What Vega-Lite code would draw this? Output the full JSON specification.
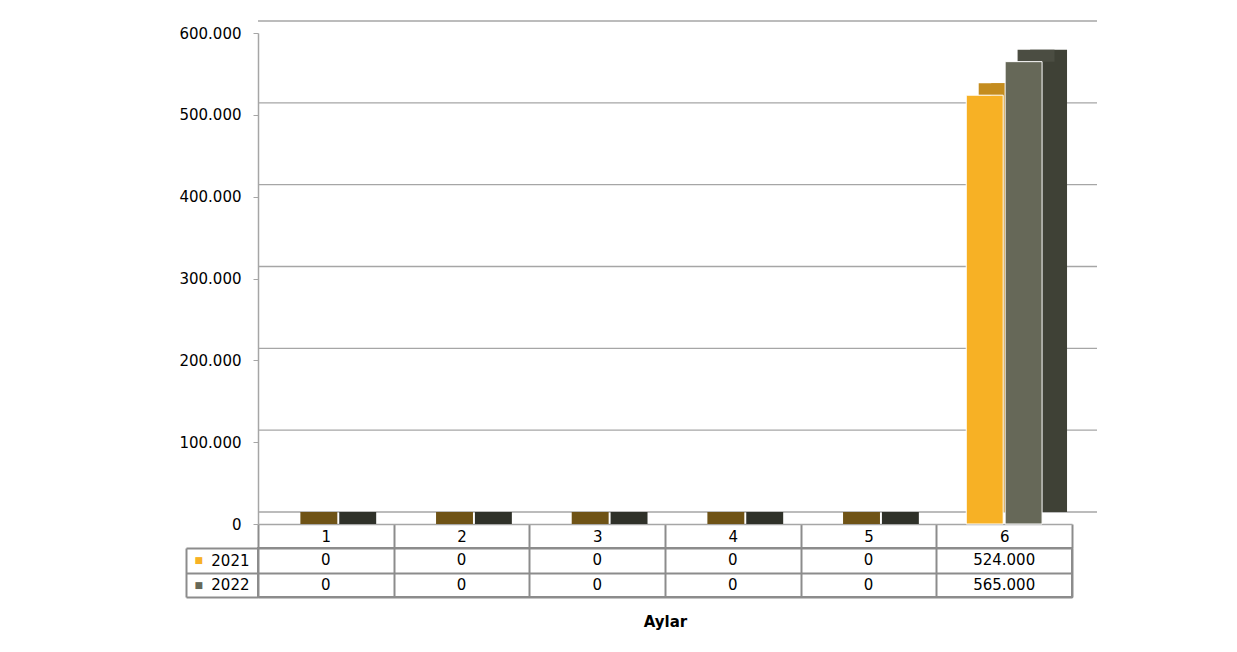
{
  "$schema": "https://vega.github.io/schema/vega-lite/v6.json",
  "background": "white",
  "padding": {"left": 178, "top": 20, "right": 5, "bottom": 5},
  "spacing": 24,
  "bounds": "flush",
  "datasets": {
    "vals": [
      {"month": "1", "year": "2021", "value": 0},
      {"month": "1", "year": "2022", "value": 0},
      {"month": "2", "year": "2021", "value": 0},
      {"month": "2", "year": "2022", "value": 0},
      {"month": "3", "year": "2021", "value": 0},
      {"month": "3", "year": "2022", "value": 0},
      {"month": "4", "year": "2021", "value": 0},
      {"month": "4", "year": "2022", "value": 0},
      {"month": "5", "year": "2021", "value": 0},
      {"month": "5", "year": "2022", "value": 0},
      {"month": "6", "year": "2021", "value": 524000},
      {"month": "6", "year": "2022", "value": 565000}
    ],
    "grid": [
      {"v": 0}, {"v": 100000}, {"v": 200000}, {"v": 300000},
      {"v": 400000}, {"v": 500000}, {"v": 600000}
    ]
  },
  "vconcat": [
    {
      "width": 814,
      "height": 491,
      "view": {"stroke": null},
      "layer": [
        {
          "data": {"name": "grid"},
          "mark": {"type": "rule", "color": "#a6a6a6", "strokeWidth": 1.3, "xOffset": 25, "x2Offset": 25, "yOffset": -12},
          "encoding": {
            "y": {"field": "v", "type": "quantitative", "scale": {"domain": [0, 600000]}}
          }
        },
        {
          "data": {"name": "vals"},
          "transform": [{"filter": "datum.value > 0"}],
          "mark": {"type": "bar", "yOffset": -12, "y2Offset": -12},
          "encoding": {
            "x": {"field": "month", "type": "nominal", "scale": {"paddingInner": 0, "paddingOuter": 0},
              "axis": {"title": null, "labelAngle": 0, "domainColor": "#a6a6a6", "domainWidth": 1.5, "tickBand": "extent", "tickSize": 24, "tickColor": "#8c8c8c", "tickWidth": 2, "labelPadding": -19, "labelFontSize": 15, "labelFont": "DejaVu Sans", "labelColor": "#000000", "grid": false}},
            "xOffset": {"field": "year", "type": "nominal", "scale": {"domain": ["2021", "2022"], "paddingOuter": 0.77, "paddingInner": 0.05, "align": 0.917}},
            "y": {"field": "value", "type": "quantitative"},
            "color": {"condition": {"test": "datum.year == '2021'", "value": "#c48a1c"}, "value": "#3f4136"}
          }
        },
        {
          "data": {"name": "vals"},
          "mark": {"type": "bar", "yOffset": -12},
          "encoding": {
            "x": {"field": "month", "type": "nominal"},
            "xOffset": {"field": "year", "type": "nominal", "scale": {"paddingOuter": 0.77, "paddingInner": 0.05, "align": 0.708}},
            "y": {"field": "value", "type": "quantitative"},
            "y2": {"field": "value"},
            "color": {"condition": [
              {"test": "datum.year == '2021' && datum.value == 0", "value": "#6f5316"},
              {"test": "datum.year == '2021'", "value": "#c48c1e"},
              {"test": "datum.value == 0", "value": "#2f3129"}
            ], "value": "#4b4d42"}
          }
        },
        {
          "data": {"name": "vals"},
          "transform": [{"filter": "datum.value > 0"}],
          "mark": {"type": "bar", "stroke": "white", "strokeWidth": 1},
          "encoding": {
            "x": {"field": "month", "type": "nominal"},
            "xOffset": {"field": "year", "type": "nominal", "scale": {"domain": ["2021", "2022"], "paddingOuter": 0.77, "paddingInner": 0.05, "align": 0.5}},
            "y": {"field": "value", "type": "quantitative",
              "axis": {"title": null, "tickCount": 6, "format": ",.0f", "grid": false, "domainColor": "#a6a6a6", "domainWidth": 1.5, "tickColor": "#a6a6a6", "tickSize": 5, "labelPadding": 12, "labelFontSize": 15, "labelFont": "DejaVu Sans", "labelColor": "#000000"}},
            "color": {"condition": {"test": "datum.year == '2021'", "value": "#f7b125"}, "value": "#666858"}
          }
        }
      ],
      "resolve": {"scale": {"xOffset": "independent"}}
    },
    {
      "width": 814,
      "height": 49,
      "view": {"stroke": "#8c8c8c", "strokeWidth": 2},
      "data": {"name": "vals"},
      "layer": [
        {
          "mark": {"type": "text", "fontSize": 15, "font": "DejaVu Sans", "color": "#000000"},
          "encoding": {
            "x": {"field": "month", "type": "nominal", "scale": {"paddingInner": 0, "paddingOuter": 0},
              "axis": {"grid": true, "tickBand": "extent", "gridColor": "#8c8c8c", "gridWidth": 2, "labels": false, "ticks": false, "domain": false, "title": "Aylar", "titleFontSize": 15, "titleFont": "DejaVu Sans", "titleFontWeight": "bold", "titleColor": "#000000", "titlePadding": 17}},
            "y": {"field": "year", "type": "nominal",
              "axis": {"title": null, "tickBand": "extent", "tickSize": 72, "tickColor": "#8c8c8c", "tickWidth": 2, "labelPadding": -63, "grid": true, "gridColor": "#8c8c8c", "gridWidth": 2, "domain": false, "labelFontSize": 15, "labelFont": "DejaVu Sans", "labelColor": "#000000"}},
            "text": {"field": "value", "type": "quantitative", "format": ",.0f"}
          }
        },
        {
          "mark": {"type": "text", "text": ""},
          "encoding": {
            "x": {"field": "month", "type": "nominal"},
            "y": {"field": "year", "type": "nominal",
              "axis": {"orient": "left", "offset": 72, "title": null, "domain": true, "domainColor": "#8c8c8c", "domainWidth": 2, "ticks": false, "tickSize": 0, "grid": false, "labelExpr": "'■'", "labelFont": "DejaVu Sans", "labelFontSize": 9, "labelAlign": "left", "labelPadding": -8,
                "labelColor": {"condition": {"test": "datum.value === '2021'", "value": "#f7b125"}, "value": "#666858"}}}
          }
        }
      ],
      "resolve": {"axis": {"y": "independent"}}
    }
  ],
  "config": {
    "font": "DejaVu Sans",
    "locale": {"number": {"decimal": ",", "thousands": ".", "grouping": [3], "currency": ["", ""]}}
  }
}
